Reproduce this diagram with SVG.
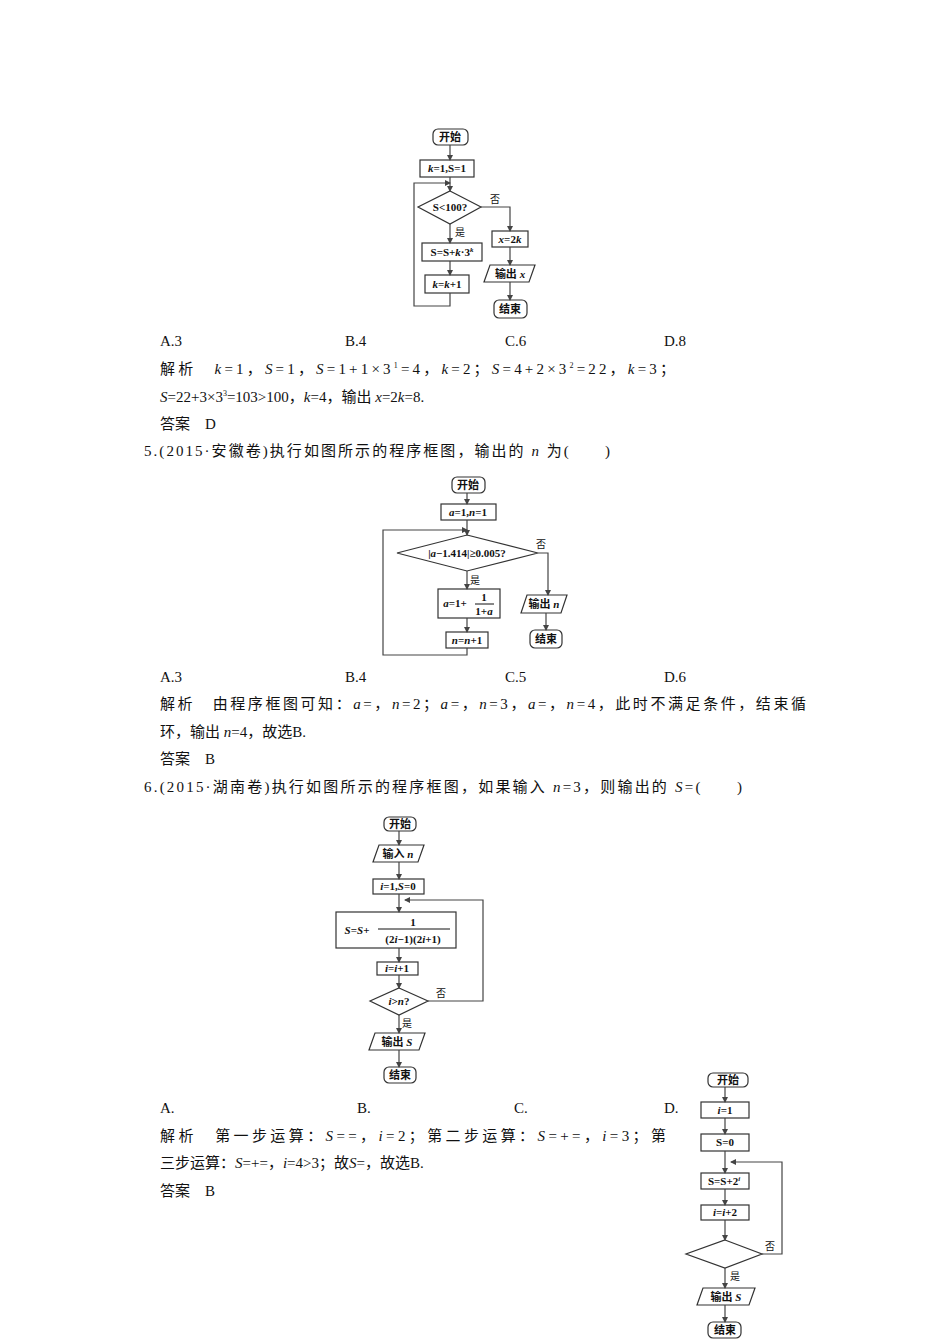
<svg xmlns="http://www.w3.org/2000/svg" width="950" height="1344" viewBox="0 0 950 1344">
<style>
.b{fill:#fff;stroke:#333;stroke-width:1.2}
.c{fill:none;stroke:#444;stroke-width:1.2}
.t{font-family:"Liberation Serif","Noto Sans CJK SC",serif;font-size:11px;font-weight:bold;fill:#111;text-anchor:middle}
.l{font-family:"Liberation Serif","Noto Sans CJK SC",serif;font-size:10px;fill:#111}
.p{font-family:"Liberation Serif","Noto Sans CJK SC",serif;font-size:15px;fill:#111}
.i{font-style:italic}
</style>
<defs><marker id="a" markerWidth="6" markerHeight="6" refX="5" refY="3" orient="auto" markerUnits="userSpaceOnUse"><path d="M0,0L6,3L0,6z" fill="#444"/></marker></defs>
<rect width="950" height="1344" fill="#fff"/>

<!-- Chart 1 -->
<g id="c1-start"><rect class="b" x="433" y="129" width="35" height="16" rx="5"/><text class="t" x="450" y="141">开始</text></g>
<g id="c1-init"><rect class="b" x="420" y="160" width="54" height="17"/><text class="t" x="447" y="172"><tspan class="i">k</tspan>=1,S=1</text></g>
<g id="c1-cond"><path class="b" d="M450,191L481,207L450,224L418,207z"/><text class="t" x="450" y="211">S&lt;100?</text></g>
<g id="c1-sum"><rect class="b" x="422" y="243" width="60" height="18"/><text class="t" x="452" y="256">S=S+<tspan class="i">k</tspan>·3<tspan font-size="7" dy="-4" class="i">k</tspan></text></g>
<g id="c1-inc"><rect class="b" x="425" y="275" width="44" height="18"/><text class="t" x="447" y="288"><tspan class="i">k</tspan>=<tspan class="i">k</tspan>+1</text></g>
<g id="c1-x"><rect class="b" x="492" y="231" width="36" height="16"/><text class="t" x="510" y="243"><tspan class="i">x</tspan>=2<tspan class="i">k</tspan></text></g>
<g id="c1-out"><path class="b" d="M490,265L535,265L529,282L484,282z"/><text class="t" x="510" y="278">输出 <tspan class="i">x</tspan></text></g>
<g id="c1-end"><rect class="b" x="494" y="300" width="33" height="18" rx="5"/><text class="t" x="510" y="313">结束</text></g>

<!-- Chart 2 -->
<g id="c2-start"><rect class="b" x="452" y="477" width="33" height="16" rx="5"/><text class="t" x="468" y="489">开始</text></g>
<g id="c2-init"><rect class="b" x="441" y="504" width="55" height="16"/><text class="t" x="468" y="516"><tspan class="i">a</tspan>=1,<tspan class="i">n</tspan>=1</text></g>
<g id="c2-cond"><path class="b" d="M467,535L538,553L467,571L397,553z"/><text class="t" x="467" y="557">|<tspan class="i">a</tspan>−1.414|≥0.005?</text></g>
<g id="c2-upd"><rect class="b" x="438" y="589" width="62" height="29"/><text class="t" x="455" y="607"><tspan class="i">a</tspan>=1+</text><text class="t" x="484" y="601">1</text><line x1="475" y1="604" x2="494" y2="604" stroke="#111"/><text class="t" x="484" y="615">1+<tspan class="i">a</tspan></text></g>
<g id="c2-inc"><rect class="b" x="446" y="632" width="42" height="16"/><text class="t" x="467" y="644"><tspan class="i">n</tspan>=<tspan class="i">n</tspan>+1</text></g>
<g id="c2-out"><path class="b" d="M527,595L567,595L561,613L521,613z"/><text class="t" x="544" y="608">输出 <tspan class="i">n</tspan></text></g>
<g id="c2-end"><rect class="b" x="530" y="630" width="32" height="18" rx="5"/><text class="t" x="546" y="643">结束</text></g>

<!-- Chart 3 -->
<g id="c3-start"><rect class="b" x="384" y="817" width="32" height="14" rx="5"/><text class="t" x="400" y="828">开始</text></g>
<g id="c3-in"><path class="b" d="M379,845L424,845L418,862L373,862z"/><text class="t" x="398" y="858">输入 <tspan class="i">n</tspan></text></g>
<g id="c3-init"><rect class="b" x="373" y="879" width="51" height="15"/><text class="t" x="398" y="890"><tspan class="i">i</tspan>=1,<tspan class="i">S</tspan>=0</text></g>
<g id="c3-sum"><rect class="b" x="336" y="912" width="120" height="36"/><text class="t" x="357" y="934"><tspan class="i">S</tspan>=<tspan class="i">S</tspan>+</text><text class="t" x="413" y="926">1</text><line x1="378" y1="929" x2="450" y2="929" stroke="#111"/><text class="t" x="413" y="943">(2<tspan class="i">i</tspan>−1)(2<tspan class="i">i</tspan>+1)</text></g>
<g id="c3-inc"><rect class="b" x="377" y="962" width="41" height="13"/><text class="t" x="397" y="972"><tspan class="i">i</tspan>=<tspan class="i">i</tspan>+1</text></g>
<g id="c3-cond"><path class="b" d="M399,988L428,1001L399,1015L370,1001z"/><text class="t" x="399" y="1005"><tspan class="i">i</tspan>&gt;<tspan class="i">n</tspan>?</text></g>
<g id="c3-out"><path class="b" d="M375,1033L425,1033L419,1050L369,1050z"/><text class="t" x="397" y="1046">输出 <tspan class="i">S</tspan></text></g>
<g id="c3-end"><rect class="b" x="384" y="1067" width="32" height="16" rx="5"/><text class="t" x="400" y="1079">结束</text></g>

<!-- Chart 4 -->
<g id="c4-start"><rect class="b" x="708" y="1073" width="40" height="14" rx="5"/><text class="t" x="728" y="1084">开始</text></g>
<g id="c4-i"><rect class="b" x="701" y="1102" width="48" height="16"/><text class="t" x="725" y="1114"><tspan class="i">i</tspan>=1</text></g>
<g id="c4-s"><rect class="b" x="701" y="1134" width="48" height="17"/><text class="t" x="725" y="1146">S=0</text></g>
<g id="c4-sum"><rect class="b" x="701" y="1173" width="48" height="16"/><text class="t" x="724" y="1185">S=S+2<tspan font-size="7" dy="-4" class="i">i</tspan></text></g>
<g id="c4-inc"><rect class="b" x="701" y="1205" width="48" height="15"/><text class="t" x="725" y="1216"><tspan class="i">i</tspan>=<tspan class="i">i</tspan>+2</text></g>
<g id="c4-cond"><path class="b" d="M725,1240L762,1254L725,1268L686,1254z"/></g>
<g id="c4-out"><path class="b" d="M703,1288L755,1288L749,1305L697,1305z"/><text class="t" x="726" y="1301">输出 <tspan class="i">S</tspan></text></g>
<g id="c4-end"><rect class="b" x="708" y="1322" width="33" height="16" rx="5"/><text class="t" x="725" y="1334">结束</text></g>

<g id="connectors">
<path class="c" d="M450,145V160" marker-end="url(#a)"/>
<path class="c" d="M450,177V191" marker-end="url(#a)"/>
<path class="c" d="M450,224V243" marker-end="url(#a)"/>
<path class="c" d="M450,261V275" marker-end="url(#a)"/>
<path class="c" d="M450,293V306H414V183H450" marker-end="url(#a)"/>
<path class="c" d="M481,207H510V231" marker-end="url(#a)"/>
<path class="c" d="M510,247V265" marker-end="url(#a)"/>
<path class="c" d="M510,282V300" marker-end="url(#a)"/>

<path class="c" d="M467,493V504" marker-end="url(#a)"/>
<path class="c" d="M467,520V535" marker-end="url(#a)"/>
<path class="c" d="M467,571V589" marker-end="url(#a)"/>
<path class="c" d="M467,618V632" marker-end="url(#a)"/>
<path class="c" d="M467,648V655H383V530H467" marker-end="url(#a)"/>
<path class="c" d="M538,553H548V595" marker-end="url(#a)"/>
<path class="c" d="M546,613V630" marker-end="url(#a)"/>

<path class="c" d="M399,831V845" marker-end="url(#a)"/>
<path class="c" d="M399,862V879" marker-end="url(#a)"/>
<path class="c" d="M399,894V912" marker-end="url(#a)"/>
<path class="c" d="M399,948V962" marker-end="url(#a)"/>
<path class="c" d="M399,975V988" marker-end="url(#a)"/>
<path class="c" d="M399,1015V1033" marker-end="url(#a)"/>
<path class="c" d="M399,1050V1067" marker-end="url(#a)"/>
<path class="c" d="M428,1001H483V900H405" marker-end="url(#a)"/>

<path class="c" d="M725,1087V1102" marker-end="url(#a)"/>
<path class="c" d="M725,1118V1134" marker-end="url(#a)"/>
<path class="c" d="M725,1151V1173" marker-end="url(#a)"/>
<path class="c" d="M725,1189V1205" marker-end="url(#a)"/>
<path class="c" d="M725,1220V1240" marker-end="url(#a)"/>
<path class="c" d="M725,1268V1288" marker-end="url(#a)"/>
<path class="c" d="M725,1305V1322" marker-end="url(#a)"/>
<path class="c" d="M762,1254H782V1162H731" marker-end="url(#a)"/>

<text class="l" x="490" y="203">否</text>
<text class="l" x="455" y="236">是</text>
<text class="l" x="536" y="548">否</text>
<text class="l" x="470" y="584">是</text>
<text class="l" x="436" y="997">否</text>
<text class="l" x="402" y="1027">是</text>
<text class="l" x="765" y="1250">否</text>
<text class="l" x="730" y="1280">是</text>
</g>

<g id="text">
<text class="p" x="160" y="346">A.3</text><text class="p" x="345" y="346">B.4</text><text class="p" x="505" y="346">C.6</text><text class="p" x="664" y="346">D.8</text>
<text class="p" x="160" y="374" textLength="515">解析　<tspan class="i">k</tspan>=1，<tspan class="i">S</tspan>=1，<tspan class="i">S</tspan>=1+1×3<tspan font-size="8" dy="-6">1</tspan><tspan dy="6">=4，</tspan><tspan class="i">k</tspan>=2；<tspan class="i">S</tspan>=4+2×3<tspan font-size="8" dy="-6">2</tspan><tspan dy="6">=22，</tspan><tspan class="i">k</tspan>=3；</text>
<text class="p" x="160" y="402"><tspan class="i">S</tspan>=22+3×3<tspan font-size="8" dy="-6">3</tspan><tspan dy="6">=103&gt;100，</tspan><tspan class="i">k</tspan>=4，输出 <tspan class="i">x</tspan>=2<tspan class="i">k</tspan>=8.</text>
<text class="p" x="160" y="429">答案　D</text>
<text class="p" x="144" y="456" textLength="466">5.(2015·安徽卷)执行如图所示的程序框图，输出的 <tspan class="i">n</tspan> 为(　　)</text>
<text class="p" x="160" y="682">A.3</text><text class="p" x="345" y="682">B.4</text><text class="p" x="505" y="682">C.5</text><text class="p" x="664" y="682">D.6</text>
<text class="p" x="160" y="709" textLength="646">解析　由程序框图可知：<tspan class="i">a</tspan>=，<tspan class="i">n</tspan>=2；<tspan class="i">a</tspan>=，<tspan class="i">n</tspan>=3，<tspan class="i">a</tspan>=，<tspan class="i">n</tspan>=4，此时不满足条件，结束循</text>
<text class="p" x="160" y="737">环，输出 <tspan class="i">n</tspan>=4，故选B.</text>
<text class="p" x="160" y="764">答案　B</text>
<text class="p" x="144" y="792" textLength="598">6.(2015·湖南卷)执行如图所示的程序框图，如果输入 <tspan class="i">n</tspan>=3，则输出的 <tspan class="i">S</tspan>=(　　)</text>
<text class="p" x="160" y="1113">A.</text><text class="p" x="357" y="1113">B.</text><text class="p" x="514" y="1113">C.</text><text class="p" x="664" y="1113">D.</text>
<text class="p" x="160" y="1141" textLength="506">解析　第一步运算：<tspan class="i">S</tspan>==，<tspan class="i">i</tspan>=2；第二步运算：<tspan class="i">S</tspan>=+=，<tspan class="i">i</tspan>=3；第</text>
<text class="p" x="160" y="1168">三步运算：<tspan class="i">S</tspan>=+=，<tspan class="i">i</tspan>=4&gt;3；故<tspan class="i">S</tspan>=，故选B.</text>
<text class="p" x="160" y="1196">答案　B</text>
</g>
</svg>
